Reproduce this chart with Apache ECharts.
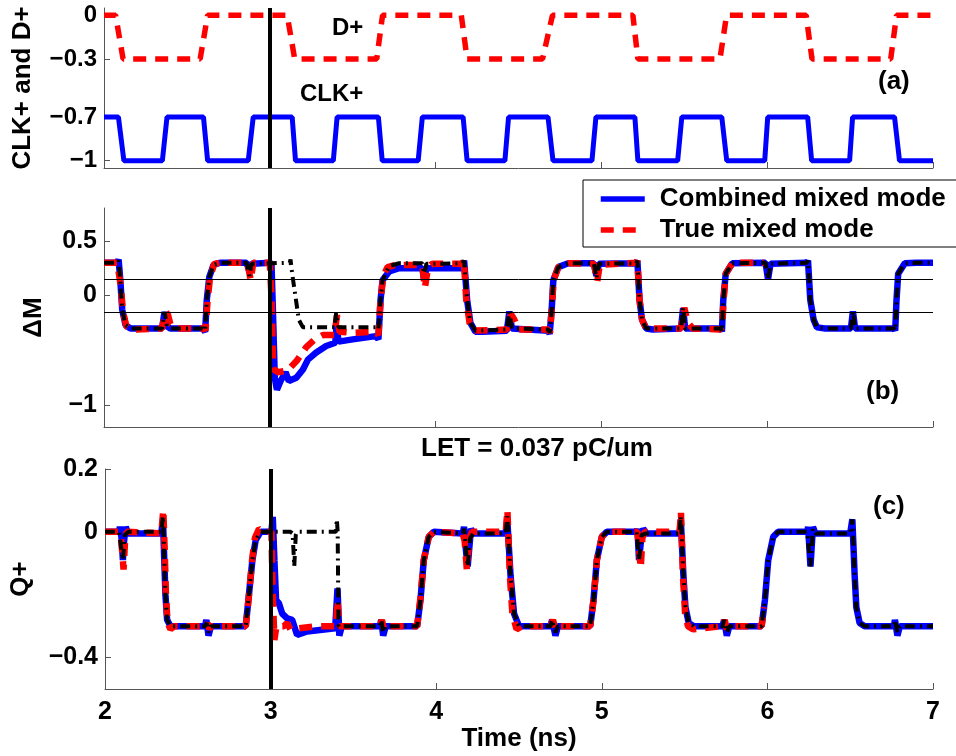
<!DOCTYPE html>
<html>
<head>
<meta charset="utf-8">
<script src="https://cdn.jsdelivr.net/npm/echarts@6.0.0/dist/echarts.min.js"></script>
<style>
html, body { margin: 0; padding: 0; background: #fff; }
#chart { width: 956px; height: 756px; }
</style>
</head>
<body>
<div id="chart"></div>
<script>
// ---- data (time in ns) ----
const xTicks = [2, 3, 4, 5, 6, 7];
const aTicks = [0, -0.3, -0.7, -1];
const bTicks = [0.5, 0, -1];
const cTicks = [0.2, 0, -0.4];
const strikeTime = 3;
const bRefLevels = [0.15, -0.15];

// (a) inputs
const dPlus = [[2.0,0],[2.07,0],[2.115,-0.3],[2.58,-0.3],[2.625,0],[3.105,0],[3.15,-0.3],[3.645,-0.3],[3.68,0],[4.155,0],[4.19,-0.3],[4.645,-0.3],[4.705,0],[5.19,0],[5.22,-0.3],[5.715,-0.3],[5.755,0],[6.235,0],[6.27,-0.3],[6.745,-0.3],[6.78,0],[7.0,0]];
const clkPlus = [[2.0,-0.7],[2.087,-0.7],[2.12,-1],[2.352,-1],[2.38,-0.7],[2.60,-0.7],[2.625,-1],[2.87,-1],[2.9,-0.7],[3.135,-0.7],[3.155,-1],[3.383,-1],[3.406,-0.7],[3.655,-0.7],[3.678,-1],[3.895,-1],[3.92,-0.7],[4.166,-0.7],[4.19,-1],[4.418,-1],[4.44,-0.7],[4.678,-0.7],[4.708,-1],[4.943,-1],[4.967,-0.7],[5.202,-0.7],[5.22,-1],[5.46,-1],[5.485,-0.7],[5.726,-0.7],[5.756,-1],[5.985,-1],[6.003,-0.7],[6.244,-0.7],[6.268,-1],[6.497,-1],[6.515,-0.7],[6.768,-0.7],[6.798,-1],[7.0,-1]];

// (b) delta M
const bBlue = [[2.0,0.30],[2.08,0.30],[2.088,0.33],[2.098,0.15],[2.11,-0.13],[2.13,-0.27],[2.16,-0.30],[2.35,-0.30],[2.365,-0.15],[2.38,-0.28],[2.40,-0.30],[2.595,-0.30],[2.61,-0.33],[2.62,-0.04],[2.635,0.17],[2.66,0.28],[2.70,0.30],[2.86,0.30],[2.875,0.23],[2.89,0.29],[2.90,0.30],[3.01,0.30],[3.02,-0.2],[3.03,-0.75],[3.043,-0.86],[3.065,-0.78],[3.095,-0.70],[3.10,-0.69],[3.115,-0.78],[3.16,-0.75],[3.20,-0.675],[3.23,-0.585],[3.28,-0.52],[3.34,-0.46],[3.395,-0.43],[3.403,-0.28],[3.415,-0.42],[3.50,-0.40],[3.64,-0.37],[3.655,-0.40],[3.668,-0.04],[3.68,0.14],[3.72,0.22],[3.78,0.25],[3.92,0.25],[3.93,0.15],[3.945,0.25],[4.16,0.25],[4.172,0.32],[4.19,-0.04],[4.21,-0.25],[4.24,-0.33],[4.28,-0.33],[4.43,-0.32],[4.445,-0.145],[4.46,-0.30],[4.68,-0.32],[4.688,-0.35],[4.70,-0.13],[4.71,0.14],[4.74,0.26],[4.80,0.295],[4.955,0.295],[4.97,0.18],[4.985,0.29],[5.21,0.295],[5.217,0.32],[5.23,-0.04],[5.245,-0.22],[5.27,-0.30],[5.31,-0.31],[5.48,-0.30],[5.493,-0.115],[5.505,-0.30],[5.72,-0.30],[5.727,-0.33],[5.735,-0.04],[5.75,0.20],[5.79,0.295],[5.99,0.30],[6.005,0.15],[6.02,0.29],[6.24,0.30],[6.246,0.32],[6.26,-0.04],[6.28,-0.22],[6.30,-0.29],[6.35,-0.30],[6.505,-0.30],[6.517,-0.145],[6.53,-0.30],[6.765,-0.30],[6.772,-0.32],[6.78,-0.04],[6.79,0.20],[6.83,0.295],[6.90,0.30],[7.0,0.30]];
const bRed = [[2.0,0.30],[2.08,0.30],[2.09,0.31],[2.10,0.10],[2.115,-0.15],[2.135,-0.28],[2.165,-0.31],[2.35,-0.30],[2.37,-0.15],[2.385,-0.17],[2.40,-0.26],[2.43,-0.30],[2.60,-0.30],[2.612,-0.32],[2.625,-0.04],[2.64,0.17],[2.665,0.29],[2.70,0.30],[2.865,0.30],[2.885,0.14],[2.90,0.30],[3.0,0.30],[3.01,0.0],[3.02,-0.67],[3.05,-0.70],[3.11,-0.68],[3.165,-0.59],[3.22,-0.47],[3.27,-0.40],[3.32,-0.36],[3.39,-0.36],[3.405,-0.18],[3.42,-0.33],[3.50,-0.34],[3.64,-0.33],[3.655,-0.36],[3.668,-0.04],[3.685,0.18],[3.71,0.26],[3.76,0.28],[3.92,0.28],[3.935,0.07],[3.955,0.26],[3.98,0.29],[4.16,0.29],[4.17,0.33],[4.185,-0.04],[4.205,-0.25],[4.23,-0.32],[4.43,-0.31],[4.455,-0.17],[4.475,-0.22],[4.50,-0.31],[4.68,-0.31],[4.69,-0.34],[4.70,-0.13],[4.712,0.14],[4.74,0.26],[4.80,0.295],[4.955,0.29],[4.975,0.13],[4.99,0.28],[5.21,0.30],[5.217,0.32],[5.23,-0.04],[5.245,-0.22],[5.27,-0.30],[5.48,-0.30],[5.50,-0.11],[5.52,-0.24],[5.55,-0.30],[5.72,-0.31],[5.73,-0.25],[5.737,-0.04],[5.75,0.20],[5.79,0.30],[5.98,0.30]];
const bBlack = [[2.0,0.30],[2.08,0.30],[2.088,0.32],[2.098,0.15],[2.11,-0.13],[2.13,-0.27],[2.16,-0.30],[2.35,-0.30],[2.365,-0.15],[2.38,-0.28],[2.40,-0.30],[2.595,-0.30],[2.61,-0.32],[2.62,-0.04],[2.635,0.17],[2.66,0.28],[2.70,0.30],[2.86,0.30],[2.877,0.18],[2.89,0.29],[2.90,0.30],[3.12,0.30],[3.125,0.33],[3.135,0.2],[3.155,-0.01],[3.175,-0.22],[3.20,-0.29],[3.39,-0.29],[3.40,-0.16],[3.415,-0.29],[3.64,-0.29],[3.655,-0.31],[3.668,-0.04],[3.68,0.14],[3.72,0.27],[3.78,0.295],[3.92,0.295],[3.93,0.2],[3.945,0.29],[4.16,0.295],[4.172,0.32],[4.19,-0.04],[4.21,-0.25],[4.24,-0.32],[4.43,-0.31],[4.445,-0.145],[4.46,-0.30],[4.68,-0.31],[4.688,-0.34],[4.70,-0.13],[4.71,0.14],[4.74,0.26],[4.80,0.295],[4.955,0.295],[4.97,0.16],[4.985,0.29],[5.21,0.295],[5.217,0.32],[5.23,-0.04],[5.245,-0.22],[5.27,-0.30],[5.48,-0.30],[5.493,-0.115],[5.505,-0.30],[5.72,-0.30],[5.727,-0.33],[5.735,-0.04],[5.75,0.20],[5.79,0.295],[5.99,0.30],[6.005,0.15],[6.02,0.29],[6.24,0.30],[6.246,0.32],[6.26,-0.04],[6.28,-0.22],[6.30,-0.29],[6.35,-0.30],[6.505,-0.30],[6.517,-0.145],[6.53,-0.30],[6.765,-0.30],[6.772,-0.32],[6.78,-0.04],[6.79,0.20],[6.83,0.295],[6.90,0.30],[7.0,0.30]];

// (c) Q+
const cBlue = [[2.0,0],[2.085,0],[2.09,0.016],[2.10,-0.02],[2.108,-0.09],[2.115,-0.03],[2.125,0.016],[2.14,-0.005],[2.34,-0.005],[2.35,0.04],[2.358,-0.09],[2.365,-0.2],[2.375,-0.28],[2.395,-0.30],[2.605,-0.30],[2.612,-0.28],[2.625,-0.33],[2.64,-0.30],[2.85,-0.30],[2.87,-0.195],[2.89,-0.09],[2.91,-0.026],[2.94,0],[3.005,0],[3.013,0.048],[3.023,-0.09],[3.033,-0.217],[3.05,-0.227],[3.07,-0.26],[3.10,-0.275],[3.13,-0.28],[3.16,-0.328],[3.22,-0.317],[3.39,-0.307],[3.404,-0.18],[3.415,-0.33],[3.43,-0.30],[3.66,-0.30],[3.668,-0.28],[3.68,-0.33],[3.695,-0.30],[3.885,-0.30],[3.905,-0.217],[3.925,-0.09],[3.955,-0.016],[3.985,0],[4.16,-0.005],[4.168,0.016],[4.18,-0.06],[4.19,-0.11],[4.205,-0.02],[4.21,0.01],[4.225,-0.005],[4.42,-0.005],[4.429,0.04],[4.449,-0.14],[4.47,-0.26],[4.50,-0.30],[4.69,-0.30],[4.70,-0.28],[4.72,-0.33],[4.735,-0.30],[4.93,-0.30],[4.95,-0.217],[4.97,-0.09],[5.0,-0.016],[5.03,0],[5.21,0],[5.215,0.01],[5.225,-0.09],[5.24,-0.01],[5.25,0.01],[5.27,-0.005],[5.47,-0.005],[5.477,0.04],[5.493,-0.14],[5.505,-0.24],[5.525,-0.29],[5.555,-0.30],[5.73,-0.30],[5.738,-0.28],[5.755,-0.33],[5.77,-0.30],[5.965,-0.30],[5.985,-0.217],[6.005,-0.09],[6.035,-0.016],[6.065,0],[6.24,0],[6.246,0.016],[6.26,-0.11],[6.275,0.016],[6.29,-0.005],[6.50,-0.005],[6.513,0.04],[6.527,-0.14],[6.537,-0.24],[6.557,-0.29],[6.587,-0.30],[6.765,-0.30],[6.77,-0.28],[6.785,-0.33],[6.80,-0.30],[7.0,-0.30]];
const cRed = [[2.0,0],[2.085,0],[2.095,-0.01],[2.105,-0.07],[2.112,-0.12],[2.12,-0.04],[2.13,0.0],[2.34,-0.005],[2.352,0.07],[2.36,-0.05],[2.368,-0.2],[2.378,-0.29],[2.395,-0.31],[2.42,-0.30],[2.61,-0.30],[2.62,-0.29],[2.63,-0.31],[2.64,-0.30],[2.85,-0.30],[2.868,-0.21],[2.888,-0.09],[2.905,-0.02],[2.93,0.01],[2.96,0.0],[3.005,0.0],[3.013,-0.2],[3.023,-0.344],[3.035,-0.30],[3.08,-0.30],[3.10,-0.29],[3.12,-0.31],[3.28,-0.30],[3.395,-0.30],[3.404,-0.217],[3.415,-0.30],[3.66,-0.30],[3.672,-0.28],[3.685,-0.31],[3.70,-0.30],[3.885,-0.30],[3.905,-0.21],[3.925,-0.09],[3.955,-0.016],[3.985,0.0],[4.16,-0.005],[4.172,-0.03],[4.185,-0.12],[4.20,-0.02],[4.215,0.0],[4.42,0.0],[4.43,0.07],[4.445,-0.14],[4.46,-0.26],[4.485,-0.31],[4.52,-0.30],[4.69,-0.30],[4.705,-0.28],[4.72,-0.31],[4.735,-0.30],[4.93,-0.30],[4.95,-0.217],[4.97,-0.09],[5.0,-0.016],[5.03,0.0],[5.215,0.0],[5.225,-0.05],[5.235,-0.116],[5.245,-0.02],[5.26,0.0],[5.47,0.0],[5.478,0.063],[5.49,-0.14],[5.503,-0.26],[5.52,-0.30],[5.55,-0.31],[5.73,-0.30],[5.742,-0.28],[5.755,-0.31],[5.77,-0.30],[5.965,-0.30],[5.98,-0.24]];
const cBlack = [[2.0,0],[2.085,0],[2.095,0.0],[2.108,-0.09],[2.12,-0.01],[2.14,0],[2.34,0],[2.35,0.05],[2.358,-0.09],[2.365,-0.2],[2.375,-0.28],[2.395,-0.30],[2.605,-0.30],[2.615,-0.29],[2.625,-0.32],[2.64,-0.30],[2.85,-0.30],[2.87,-0.195],[2.89,-0.09],[2.91,-0.026],[2.94,0],[3.12,0],[3.133,-0.005],[3.143,-0.11],[3.152,-0.01],[3.16,0],[3.395,0],[3.40,0.04],[3.405,0.0],[3.41,-0.30],[3.66,-0.30],[3.668,-0.28],[3.68,-0.32],[3.695,-0.30],[3.885,-0.30],[3.905,-0.217],[3.925,-0.09],[3.955,-0.016],[3.985,0],[4.16,-0.005],[4.168,0.01],[4.18,-0.06],[4.19,-0.11],[4.205,-0.02],[4.225,-0.005],[4.42,-0.005],[4.429,0.05],[4.449,-0.14],[4.47,-0.26],[4.50,-0.30],[4.69,-0.30],[4.70,-0.28],[4.72,-0.32],[4.735,-0.30],[4.93,-0.30],[4.95,-0.217],[4.97,-0.09],[5.0,-0.016],[5.03,0],[5.21,0],[5.225,-0.09],[5.24,-0.01],[5.27,-0.005],[5.47,-0.005],[5.477,0.05],[5.493,-0.14],[5.505,-0.24],[5.525,-0.29],[5.555,-0.30],[5.73,-0.30],[5.738,-0.28],[5.755,-0.32],[5.77,-0.30],[5.965,-0.30],[5.985,-0.217],[6.005,-0.09],[6.035,-0.016],[6.065,0],[6.24,0],[6.26,-0.11],[6.275,0.01],[6.29,-0.005],[6.50,-0.005],[6.513,0.04],[6.527,-0.14],[6.537,-0.24],[6.557,-0.29],[6.587,-0.30],[6.765,-0.30],[6.77,-0.28],[6.785,-0.32],[6.80,-0.30],[7.0,-0.30]];

// ---- styling ----
const FONT = '"Liberation Sans", Arial, Helvetica, sans-serif';
const axisColor = '#555';
const BLUE = '#0000ff';
const RED = '#ff0000';
const bold = (size) => ({fontFamily: FONT, fontWeight: 'bold', fontSize: size, color: '#000'});
const fmt = v => (v < 0 ? '\u2212' : '') + Math.abs(v);

function xAxis(gridIndex, showLabels) {
	return {
		type: 'value', gridIndex: gridIndex, min: 2, max: 7, interval: 1,
		axisLine: {show: true, onZero: false, lineStyle: {color: axisColor, width: 1}},
		axisTick: {show: true, inside: true, length: 6, customValues: xTicks, lineStyle: {color: axisColor}},
		axisLabel: Object.assign({show: showLabels, margin: 11, customValues: xTicks}, bold(25)),
		splitLine: {show: false},
		name: showLabels ? 'Time (ns)' : '',
		nameLocation: 'middle', nameGap: 36,
		nameTextStyle: bold(26),
	};
}

function yAxis(gridIndex, min, max, ticks, name, nameGap, labelSize) {
	return {
		type: 'value', gridIndex: gridIndex, min: min, max: max,
		axisLine: {show: true, onZero: false, lineStyle: {color: axisColor, width: 1}},
		axisTick: {show: true, inside: true, length: 6, customValues: ticks, lineStyle: {color: axisColor}},
		axisLabel: Object.assign({margin: 7, customValues: ticks, formatter: fmt}, bold(labelSize)),
		splitLine: {show: false},
		name: name, nameLocation: 'middle', nameGap: nameGap,
		nameTextStyle: bold(26),
	};
}

const strikeLine = {
	silent: true, symbol: 'none', label: {show: false},
	lineStyle: {color: '#000', width: 4, type: 'solid'},
	data: [{xAxis: strikeTime}],
};

function line(name, idx, data, color, width, dash, extra) {
	return Object.assign({
		name: name, type: 'line', xAxisIndex: idx, yAxisIndex: idx,
		data: data, symbol: 'none', showSymbol: false, smooth: false,
		lineStyle: {color: color, width: width, type: dash},
		itemStyle: {color: color},
	}, extra || {});
}

const chart = echarts.init(document.getElementById('chart'), null, {renderer: 'canvas'});
chart.setOption({
	animation: false,
	backgroundColor: '#fff',
	grid: [
		{left: 104, right: 23, top: 8, height: 160},
		{left: 104, right: 23, top: 208, height: 219},
		{left: 104, right: 23, top: 469, height: 220},
	],
	xAxis: [xAxis(0, false), xAxis(1, false), xAxis(2, true)],
	yAxis: [
		yAxis(0, -1.05, 0.05, aTicks, 'CLK+ and D+', 68, 24),
		yAxis(1, -1.2, 0.8, bTicks, '\u0394M', 57, 25),
		yAxis(2, -0.5, 0.2, cTicks, 'Q+', 71, 25),
	],
	legend: {
		data: ['Combined mixed mode', 'True mixed mode'],
		orient: 'vertical', left: 583, top: 180,
		itemWidth: 44, itemHeight: 14, itemGap: 5,
		padding: [6, 14, 4, 15],
		borderColor: '#000', borderWidth: 1, borderRadius: 0,
		backgroundColor: '#fff',
		selectedMode: false,
		itemStyle: {opacity: 0},
		lineStyle: {width: 5.5},
		textStyle: Object.assign({padding: [0, 0, 0, 10]}, bold(26)),
	},
	series: [
		line('CLK+', 0, clkPlus, BLUE, 5, 'solid', {markLine: strikeLine}),
		line('D+', 0, dPlus, RED, 5.5, [13, 9]),
		line('Combined mixed mode', 1, bBlue, BLUE, 6.5, 'solid', {
			markLine: {
				silent: true, symbol: 'none', label: {show: false},
				lineStyle: {color: '#000', width: 1, type: 'solid'},
				data: bRefLevels.map(v => ({yAxis: v})),
			},
		}),
		line('True mixed mode', 1, bRed, RED, 6.5, [13, 9]),
		line('No strike', 1, bBlack, '#000', 4, [10, 5, 2, 5], {markLine: strikeLine}),
		line('Combined mixed mode', 2, cBlue, BLUE, 6.5, 'solid'),
		line('True mixed mode', 2, cRed, RED, 6.5, [13, 9]),
		line('No strike', 2, cBlack, '#000', 4, [10, 5, 2, 5], {markLine: strikeLine}),
	],
	graphic: [
		{type: 'text', left: 332, top: 16, style: {text: 'D+', fill: '#000', font: 'bold 24px ' + FONT}},
		{type: 'text', left: 300, top: 82, style: {text: 'CLK+', fill: '#000', font: 'bold 24px ' + FONT}},
		{type: 'text', left: 878, top: 69, style: {text: '(a)', fill: '#000', font: 'bold 26px ' + FONT}},
		{type: 'text', left: 866, top: 379, style: {text: '(b)', fill: '#000', font: 'bold 26px ' + FONT}},
		{type: 'text', left: 873, top: 494, style: {text: '(c)', fill: '#000', font: 'bold 26px ' + FONT}},
		{type: 'text', left: 421, top: 436, style: {text: 'LET = 0.037 pC/um', fill: '#000', font: 'bold 26px ' + FONT}},
	],
});
</script>
</body>
</html>
